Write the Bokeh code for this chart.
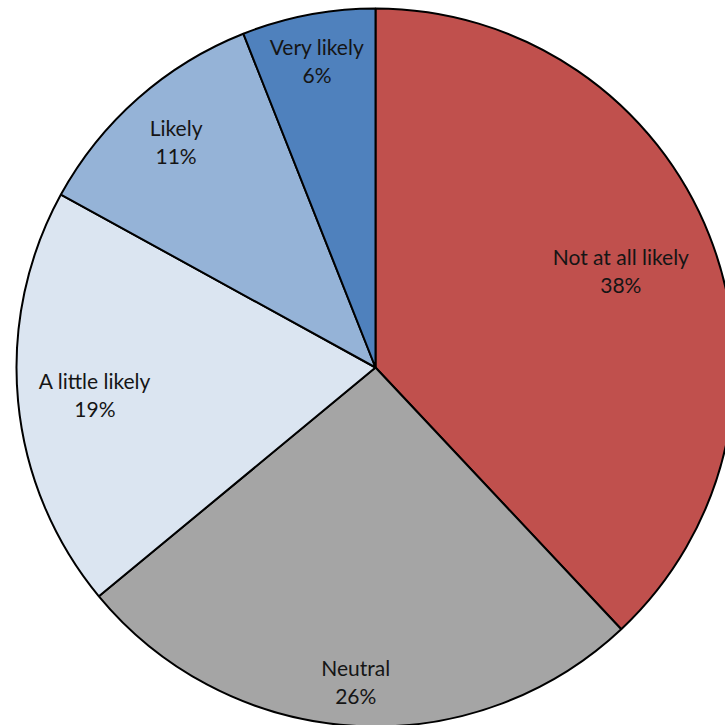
import math
from bokeh.plotting import figure
from bokeh.models import Range1d, ColumnDataSource
from bokeh.core.properties import value
from bokeh.embed import file_html
from bokeh.resources import INLINE

categories = ["Not at all likely", "Neutral", "A little likely", "Likely", "Very likely"]
shares = [38, 26, 19, 11, 6]
pct_labels = ["38%", "26%", "19%", "11%", "6%"]
colors = ["#C0504D", "#A5A5A5", "#DBE5F1", "#95B3D7", "#4F81BD"]
label_radius = [0.735, 0.877, 0.785, 0.84, 0.87]  # fraction of pie radius (layout)

R = 359
total = sum(shares)
starts, ends, lx, ly = [], [], [], []
cum = 0.0
for s, lr in zip(shares, label_radius):
    a0 = math.pi / 2 - 2 * math.pi * cum / total
    cum += s
    a1 = math.pi / 2 - 2 * math.pi * cum / total
    starts.append(a0)
    ends.append(a1)
    mid = (a0 + a1) / 2
    lx.append(lr * R * math.cos(mid))
    ly.append(lr * R * math.sin(mid))

src = ColumnDataSource(dict(cat=categories, pct=pct_labels, start=starts, end=ends,
                            color=colors, lx=lx, ly=ly))

p = figure(width=725, height=725, output_backend="svg", toolbar_location=None,
           x_range=Range1d(-375, 350), y_range=Range1d(-358, 367),
           min_border=0, outline_line_color=None)
p.axis.visible = False
p.grid.visible = False
p.background_fill_color = "white"

p.wedge(x=0, y=0, radius=R, start_angle="start", end_angle="end", direction="clock",
        fill_color="color", line_color="black", line_width=2, source=src)

p.text(x="lx", y="ly", text="cat", source=src, text_align="center", text_baseline="middle",
       y_offset=-14, text_font=value("Lato"), text_font_size="21px", text_color="#151515")
p.text(x="lx", y="ly", text="pct", source=src, text_align="center", text_baseline="middle",
       y_offset=14, text_font=value("Lato"), text_font_size="21px", text_color="#151515")

open("out.html", "w").write(file_html(p, INLINE))
